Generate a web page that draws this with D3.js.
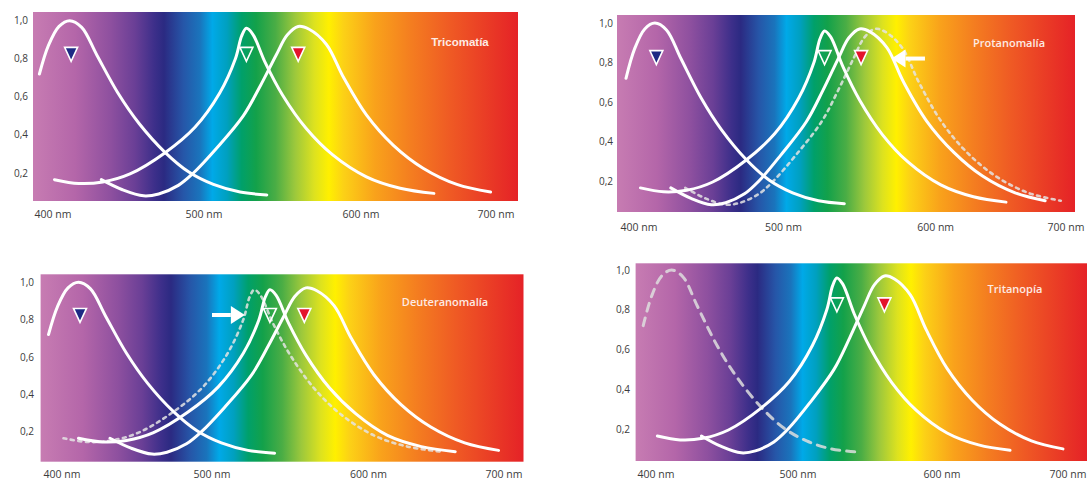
<!DOCTYPE html>
<html>
<head>
<meta charset="utf-8">
<script src="https://cdn.jsdelivr.net/npm/d3@7"></script>
<style>
body { margin: 0; background: #fff; }
svg { display: block; }
</style>
</head>
<body>
<div id="chart"></div>
<script>
/* cone sensitivity panels
 * four spectra, one per kind of colour vision
 */

// axis ticks
var nmTicks = [400, 500, 600, 700];
var valTicks = [0.2, 0.4, 0.6, 0.8, 1.0];

// cone curves: [wavelength nm, relative sensitivity]
var sCone = [[391,0.72],[397,0.87],[404,0.97],[411,1.0],[419,0.965],[429,0.82],[443,0.62],[457,0.46],
	[474,0.31],[490,0.205],[506,0.14],[523,0.10],[540,0.085]];
var mCone = [[401,0.165],[417,0.145],[433,0.153],[451,0.195],[474,0.305],[494,0.44],[510,0.62],[520,0.80],
	[524,0.92],[527,0.96],[531,0.93],[539,0.78],[550,0.61],[565,0.435],[582,0.295],[604,0.18],[629,0.12],[654,0.093]];
var lCone = [[432,0.165],[446,0.112],[460,0.08],[470,0.09],[483,0.135],[493,0.2],[508,0.33],[525,0.50],[536,0.66],
	[546,0.82],[553,0.925],[560,0.97],[567,0.955],[578,0.875],[589,0.70],[604,0.505],[624,0.345],[646,0.225],
	[671,0.14],[696,0.10]];
// shifted curves of the anomalies
var lConeProtan = [[422,0.165],[436,0.112],[450,0.08],[460,0.09],[473,0.135],[483,0.2],[498,0.33],[515,0.50],[526,0.66],
	[536,0.82],[543,0.925],[550,0.97],[557,0.955],[568,0.875],[579,0.70],[594,0.505],[614,0.345],[636,0.225],
	[661,0.14],[684,0.10]];
var mConeDeutan = [[411,0.165],[427,0.145],[443,0.153],[461,0.195],[484,0.305],[504,0.44],[520,0.62],[530,0.80],
	[534,0.92],[537,0.96],[541,0.93],[549,0.78],[560,0.61],[575,0.435],[592,0.295],[614,0.18],[639,0.12],[664,0.093]];

// peak markers (nm) and arrows ([from nm, to nm, value])
var tricMarks = [412, 527, 560];
var protMarks = [412, 527, 551];
var deutMarks = [412, 537, 559];
var tritMarks = [527, 560];
var protArrow = [593, 571, 0.82];
var deutArrow = [500, 521, 0.825];

var titles = ["Tricomatía", "Protanomalía", "Deuteranomalía", "Tritanopía"];

//~~~~~~~~~~~~~~~~~~~~~~~~~~~~~~~~~~~~~~~~~~~~~~~~~~~~~~~~~~~~~~~~~~~~~~~~~~
var width = 1087, height = 481;

var svg = d3.select("#chart").append("svg")
	.attr("width", width)
	.attr("height", height);

// spectrum background
var grad = svg.append("defs").append("linearGradient")
	.attr("id", "spectrum")
	.attr("x1", "0").attr("x2", "1").attr("y1", "0").attr("y2", "0");

var stops = [
	[0.00, "#c77cb2"], [0.087, "#b466a9"], [0.16, "#8e509f"], [0.21, "#6a3f96"], [0.25, "#3d2f8a"],
	[0.27, "#2b2a82"], [0.31, "#2656a8"], [0.344, "#1a74bc"], [0.37, "#00a9e8"], [0.40, "#00a0bf"],
	[0.43, "#00a06a"], [0.46, "#13a14a"], [0.50, "#4aad45"], [0.54, "#9cc83c"], [0.58, "#dde21f"],
	[0.61, "#fff000"], [0.64, "#fcd116"], [0.705, "#f9a21b"], [0.78, "#f47d20"], [0.86, "#ef5a24"],
	[1.00, "#e52227"]
];
grad.selectAll("stop").data(stops).enter().append("stop")
	.attr("offset", d => d[0])
	.attr("stop-color", d => d[1]);

var comma = d3.formatLocale({ decimal: ",", thousands: ".", grouping: [3], currency: ["", "€"] }).format(".1f");

// panel layouts in pixels
var panels = [
	{ title: titles[0], box: [33, 12, 518, 201], xPos: [53, 204, 361, 496], yPos: [173, 20.7],
	  yLabelX: 28, xLabelY: 218, titleAt: [460, 46], marks: tricMarks,
	  curves: [ { d: sCone }, { d: mCone }, { d: lCone } ] },
	{ title: titles[1], box: [617, 15, 1075, 212], xPos: [639, 783.5, 935.6, 1066], yPos: [181, 23],
	  yLabelX: 613, xLabelY: 231, titleAt: [1009, 47], marks: protMarks, arrow: protArrow,
	  curves: [ { d: lCone, dash: "dot" }, { d: sCone }, { d: mCone }, { d: lConeProtan } ] },
	{ title: titles[2], box: [40.6, 274.3, 523.5, 461.7], xPos: [62, 212, 368.5, 504], yPos: [431.7, 282.3],
	  yLabelX: 34, xLabelY: 477.5, titleAt: [445, 306], marks: deutMarks, arrow: deutArrow,
	  curves: [ { d: mCone, dash: "dot" }, { d: sCone }, { d: mConeDeutan }, { d: lCone } ] },
	{ title: titles[3], box: [635.6, 263.3, 1087, 461], xPos: [656, 798, 942, 1068], yPos: [429, 270],
	  yLabelX: 630, xLabelY: 477.5, titleAt: [1015, 293], marks: tritMarks,
	  curves: [ { d: sCone, dash: "long" }, { d: mCone }, { d: lCone } ] }
];

var markFill = { s: "#1d2a84", m: "none", l: "#e3142c" };

function drawPanel(p) {

	var g = svg.append("g");
	var b = p.box;

	var x = d3.scaleLinear().domain(nmTicks).range(p.xPos);
	var y = d3.scaleLinear().domain([0.2, 1.0]).range(p.yPos);

	g.append("rect")
		.attr("x", b[0]).attr("y", b[1])
		.attr("width", b[2] - b[0]).attr("height", b[3] - b[1])
		.attr("fill", "url(#spectrum)");

	// y labels
	g.selectAll(".ylab").data(valTicks).enter().append("text")
		.attr("class", "ylab")
		.attr("x", p.yLabelX)
		.attr("y", d => y(d) + 3.5)
		.attr("text-anchor", "end")
		.attr("font-family", "'Open Sans', sans-serif")
		.attr("font-size", 10)
		.attr("fill", "#3c3c3c")
		.text(d => comma(d));

	// x labels
	g.selectAll(".xlab").data(nmTicks).enter().append("text")
		.attr("class", "xlab")
		.attr("x", d => x(d))
		.attr("y", p.xLabelY)
		.attr("text-anchor", "middle")
		.attr("font-family", "'Open Sans', sans-serif")
		.attr("font-size", 10.5)
		.attr("fill", "#3c3c3c")
		.text(d => d + " nm");

	var line = d3.line()
		.x(d => x(d[0]))
		.y(d => y(d[1]))
		.curve(d3.curveCatmullRom.alpha(0.5));

	p.curves.forEach(function(c) {
		var path = g.append("path")
			.attr("d", line(c.d))
			.attr("fill", "none")
			.attr("stroke-linecap", "round");
		if (c.dash == "dot") {
			path.attr("stroke", "#e4e4e4").attr("stroke-opacity", 0.85)
				.attr("stroke-width", 2.6).attr("stroke-dasharray", "3,4.5");
		} else if (c.dash == "long") {
			path.attr("stroke", "#dedede").attr("stroke-opacity", 0.85)
				.attr("stroke-width", 3).attr("stroke-dasharray", "8,7");
		} else {
			path.attr("stroke", "#fff").attr("stroke-width", 3);
		}
	});

	// triangle markers: kind follows order s, m, l (tritanopia has no s)
	var kinds = p.marks.length == 3 ? ["s", "m", "l"] : ["m", "l"];
	g.selectAll(".mark").data(p.marks).enter().append("path")
		.attr("class", "mark")
		.attr("d", d => {
			var cx = x(d), top = y(0.86);
			return "M" + (cx - 6.5) + "," + top + "L" + (cx + 6.5) + "," + top + "L" + cx + "," + (top + 14) + "Z";
		})
		.attr("fill", (d, i) => markFill[kinds[i]])
		.attr("stroke", "#fff")
		.attr("stroke-width", 1.6)
		.attr("stroke-linejoin", "miter");

	// arrow
	if (p.arrow) {
		var x0 = x(p.arrow[0]), x1 = x(p.arrow[1]), ay = y(p.arrow[2]);
		var dir = x1 > x0 ? 1 : -1;
		var headBase = x1 - dir * 14;
		g.append("line")
			.attr("x1", x0).attr("x2", headBase)
			.attr("y1", ay).attr("y2", ay)
			.attr("stroke", "#fff").attr("stroke-width", 4);
		g.append("path")
			.attr("d", "M" + x1 + "," + ay + "L" + headBase + "," + (ay - 9) + "L" + headBase + "," + (ay + 9) + "Z")
			.attr("fill", "#fff");
	}

	// title
	g.append("text")
		.attr("x", p.titleAt[0])
		.attr("y", p.titleAt[1])
		.attr("text-anchor", "middle")
		.attr("font-family", p.title == "Tricomatía" ? "'Liberation Sans', Arial, sans-serif" : "'Open Sans', sans-serif")
		.attr("font-weight", p.title == "Tricomatía" ? 700 : 600)
		.attr("font-size", p.title == "Tricomatía" ? 11.5 : 11)
		.attr("fill", "#fdebe4")
		.text(p.title);
}

panels.forEach(drawPanel);
</script>
</body>
</html>
